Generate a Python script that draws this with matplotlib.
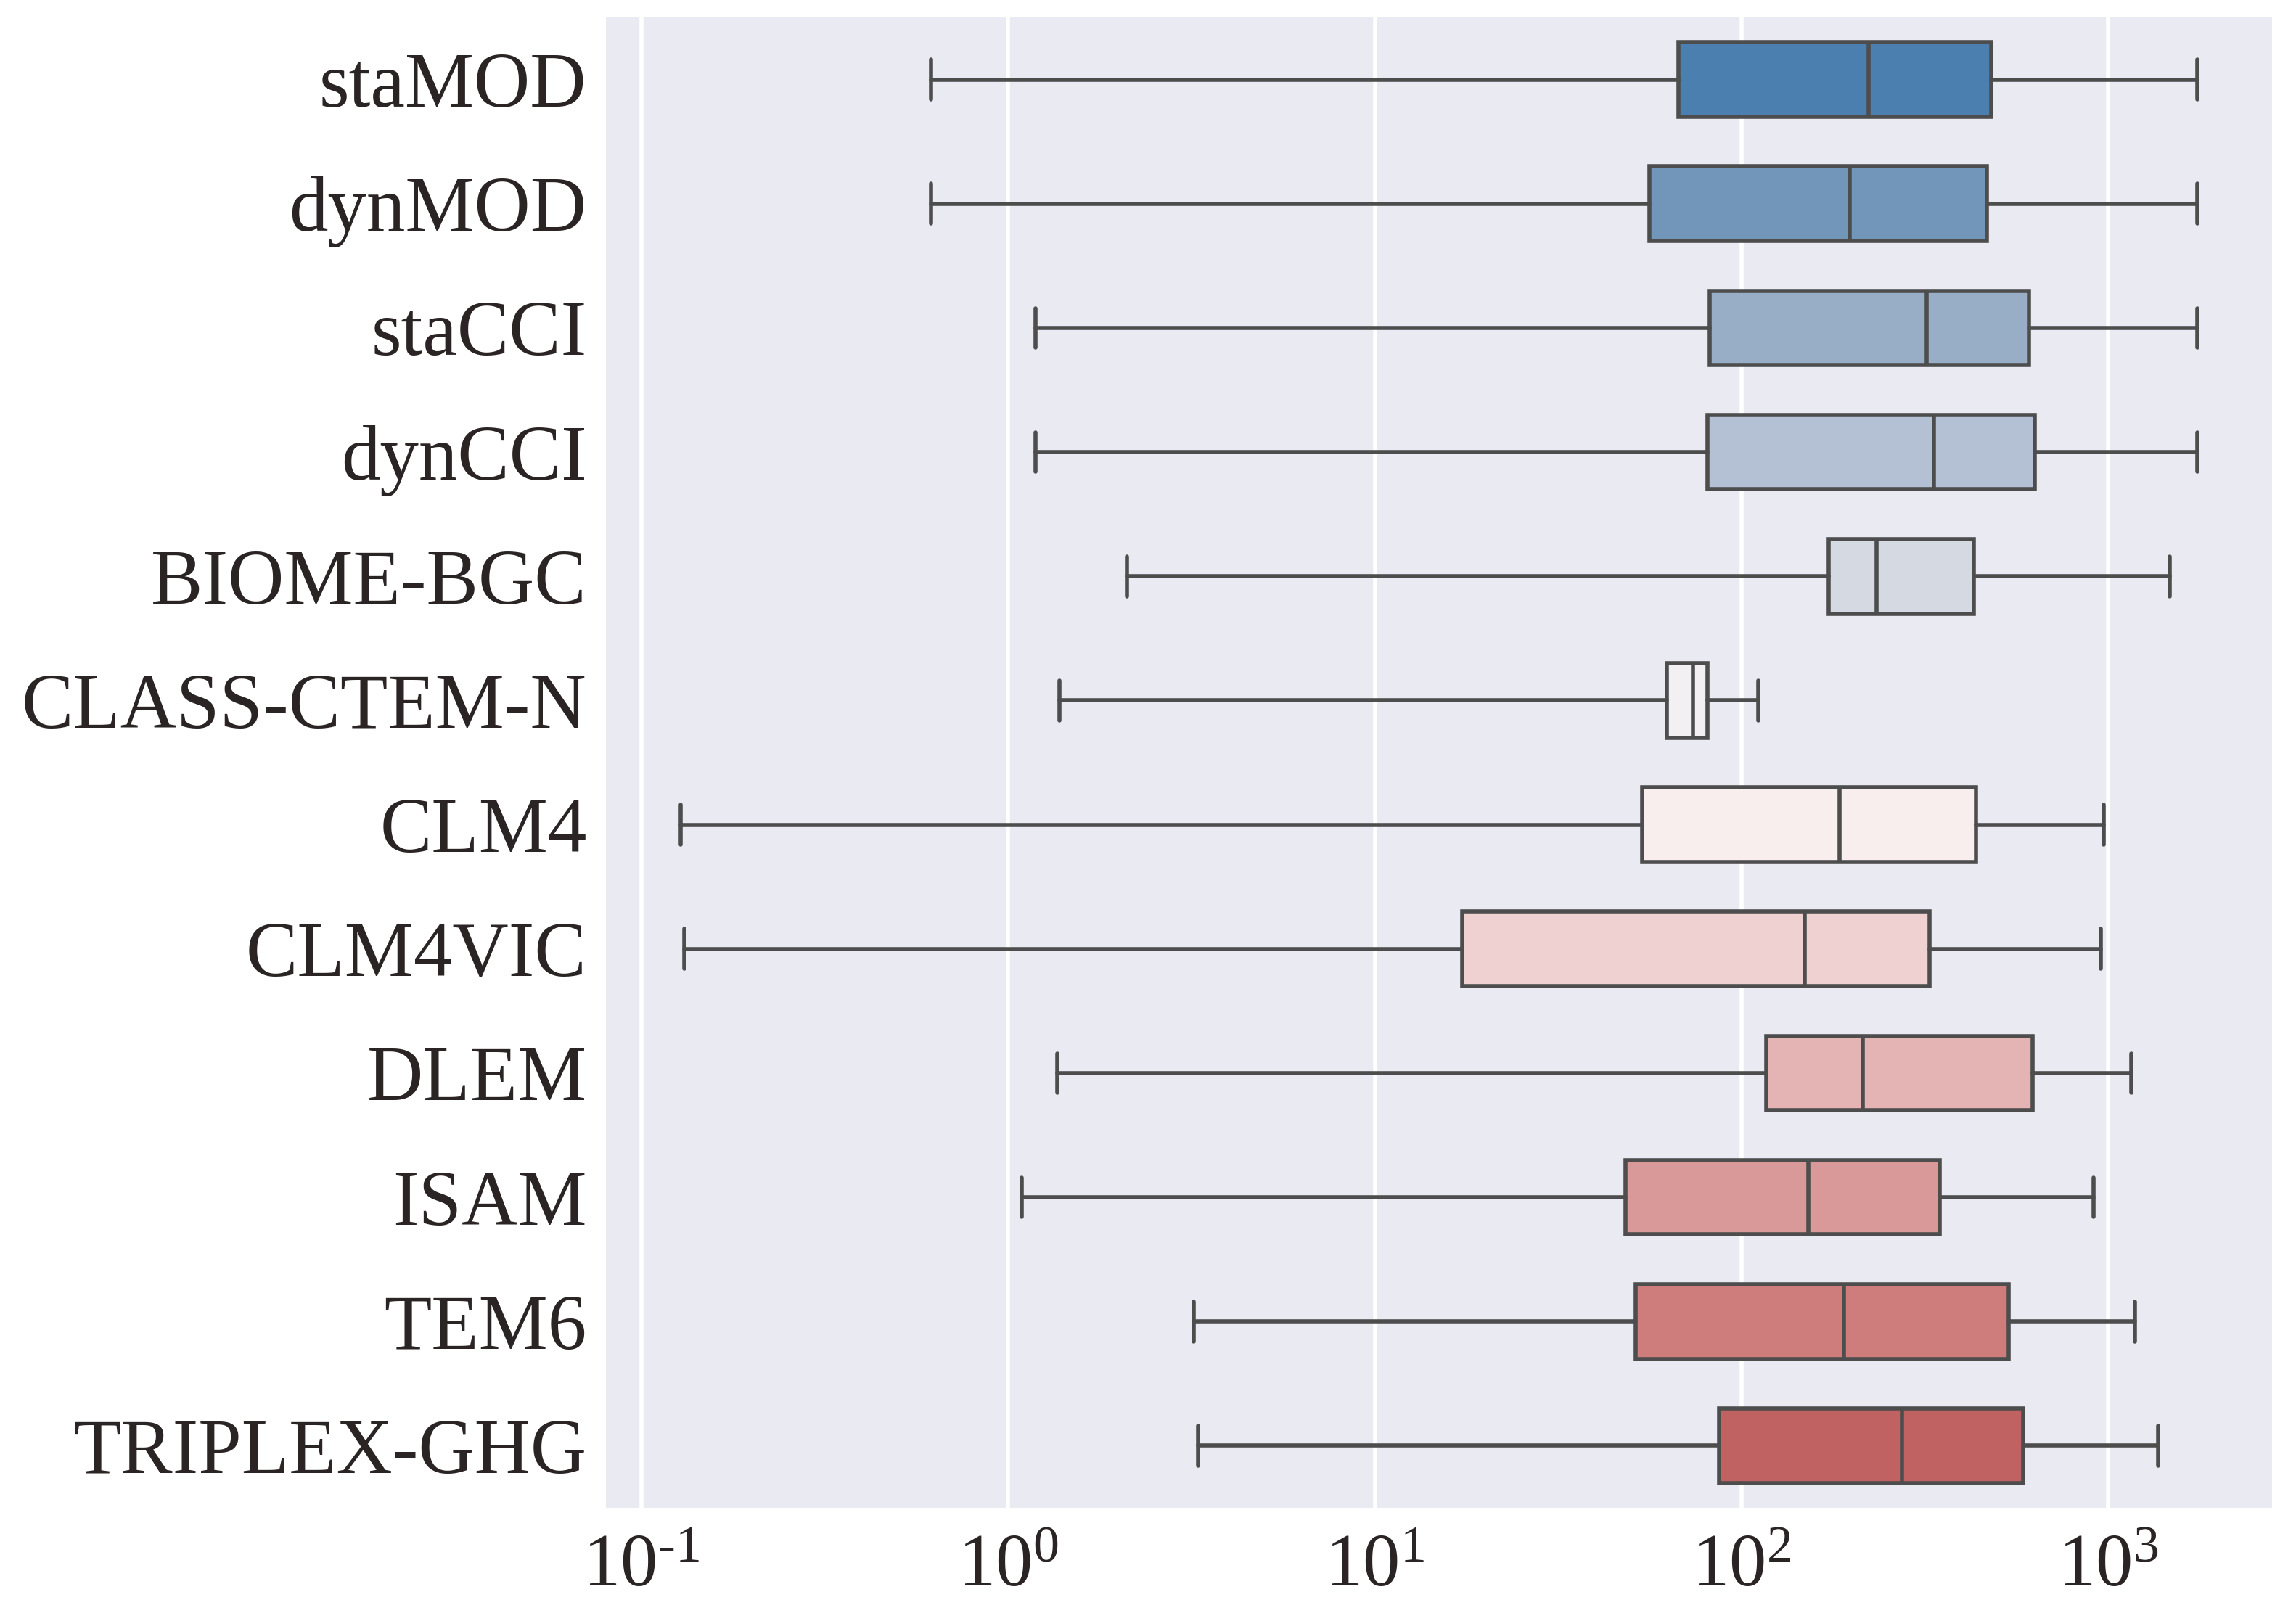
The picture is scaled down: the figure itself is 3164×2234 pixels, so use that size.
import matplotlib
matplotlib.use("Agg")
import matplotlib.pyplot as plt
import seaborn as sns

models = ["staMOD", "dynMOD", "staCCI", "dynCCI", "BIOME-BGC", "CLASS-CTEM-N",
          "CLM4", "CLM4VIC", "DLEM", "ISAM", "TEM6", "TRIPLEX-GHG"]
whislo = [0.617, 0.617, 1.19, 1.19, 2.11, 1.38, 0.128, 0.131, 1.36, 1.09, 3.21, 3.30]
q1     = [67.3, 56.0, 82.0, 80.7, 173, 62.5, 53.5, 17.3, 117, 48.3, 51.5, 86.9]
med    = [222, 197, 320, 335, 234, 73.7, 185, 149, 214, 152, 190, 274]
q3     = [480, 467, 609, 632, 430, 80.7, 437, 326, 621, 348, 536, 587]
whishi = [1750, 1750, 1750, 1750, 1472, 111, 973, 955, 1159, 912, 1181, 1368]
colors = ["#4a7fb0", "#7296ba", "#97aec6", "#b4c0d3", "#d4d9e2", "#f2f0f2",
          "#f9eeee", "#efd1d1", "#e4b4b4", "#d99999", "#ce7c7c", "#c06262"]
xticks = [0.1, 1, 10, 100, 1000]
xticklabels = ["$10^{\u2010 1}$", r"$10^{0}$", r"$10^{1}$", r"$10^{2}$", r"$10^{3}$"]

sns.set_theme(style="darkgrid")
plt.rcParams["font.family"] = ["Liberation Serif", "DejaVu Serif"]
plt.rcParams["mathtext.fontset"] = "custom"
plt.rcParams["mathtext.rm"] = "Liberation Serif"
plt.rcParams["mathtext.it"] = "Liberation Serif:italic"

fig = plt.figure(figsize=(15.82, 11.17), dpi=200)
ax = fig.add_axes([835 / 3164, 1 - 2078 / 2234, (3131 - 835) / 3164, (2078 - 24) / 2234])

stats = []
for i, m in enumerate(models):
    stats.append(dict(label=m, whislo=whislo[i], q1=q1[i], med=med[i], q3=q3[i],
                      whishi=whishi[i], fliers=[]))

edge = "#4d4d4d"
lw = 2.0
positions = list(range(len(models)))
bp = ax.bxp(stats, positions=positions, vert=False, widths=0.6, patch_artist=True,
            showfliers=False, capwidths=0.32,
            boxprops=dict(edgecolor=edge, linewidth=lw),
            medianprops=dict(color=edge, linewidth=lw),
            whiskerprops=dict(color=edge, linewidth=lw),
            capprops=dict(color=edge, linewidth=lw))
for patch, c in zip(bp["boxes"], colors):
    patch.set_facecolor(c)

ax.set_xscale("log")
ax.set_xlim(0.080, 2800)
ax.set_ylim(len(models) - 0.5, -0.5)
ax.set_yticks(positions)
ax.set_yticklabels(models)
ax.set_xticks(xticks)
ax.set_xticklabels(xticklabels)
ax.xaxis.set_minor_locator(matplotlib.ticker.NullLocator())
ax.grid(False, axis="y")
ax.grid(True, axis="x", color="white", linewidth=2.0)
ax.set_facecolor("#eaeaf2")
for s in ax.spines.values():
    s.set_visible(False)
ax.tick_params(axis="y", labelsize=38.5, length=0, pad=9.5, labelcolor="#2a2424")
ax.tick_params(axis="x", labelsize=37, length=0, pad=13, labelcolor="#2a2424")

fig.savefig("out.png", dpi=200)
